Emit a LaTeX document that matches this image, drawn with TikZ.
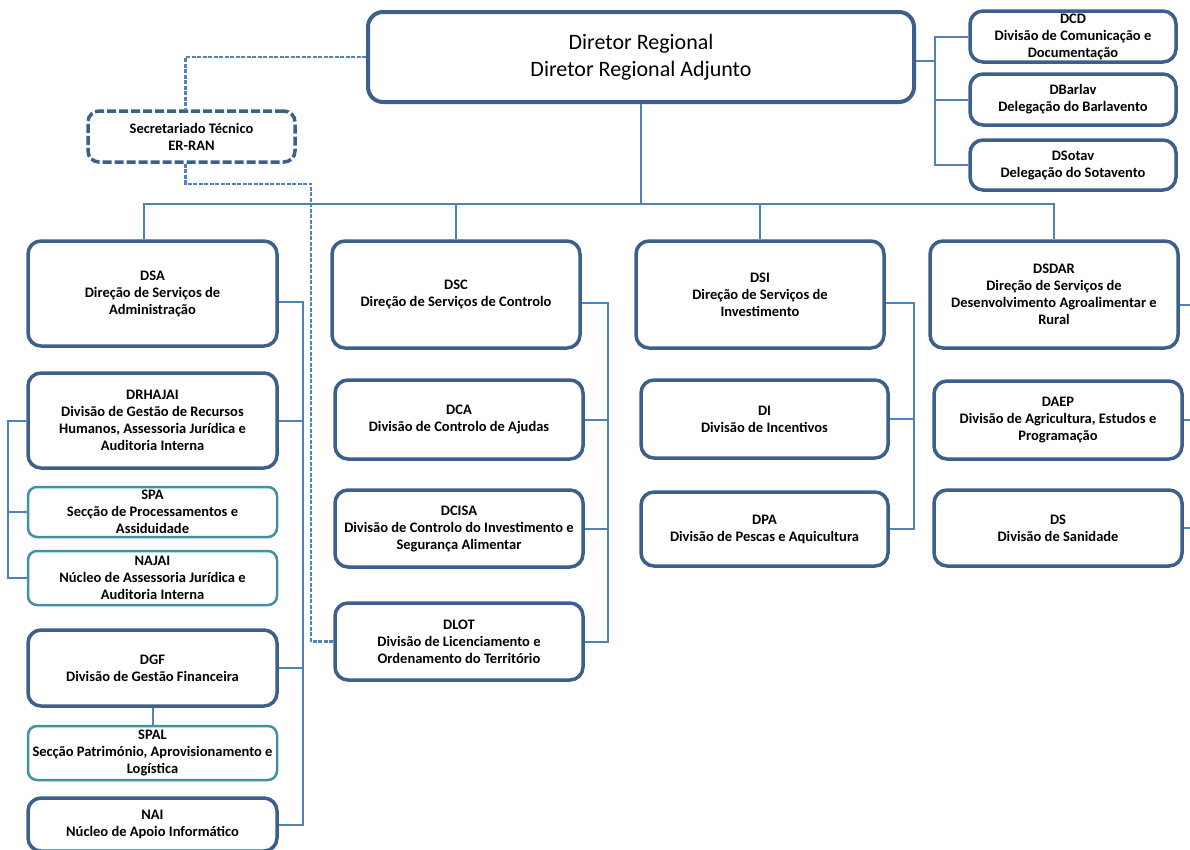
\documentclass[tikz,border=0pt]{standalone}
\usepackage{fontspec}
\setmainfont{Carlito}
\usetikzlibrary{calc}
\definecolor{boxblue}{RGB}{60,95,140}
\definecolor{connblue}{RGB}{79,129,189}
\definecolor{tealb}{RGB}{65,145,160}
\tikzset{
 base/.style={rounded corners=13pt, inner sep=0pt, align=center, text=black,
   font=\bfseries\fontsize{14.5}{17}\selectfont},
 mainbox/.style={base, draw=boxblue, line width=3.5pt},
 tealbox/.style={base, draw=tealb, line width=2.5pt, rounded corners=9pt},
 dashbox/.style={base, draw=boxblue, line width=3.5pt, rounded corners=11pt, dash pattern=on 9pt off 3pt},
 topbox/.style={mainbox, line width=4pt, rounded corners=15pt, font=\fontsize{22}{27}\selectfont},
 conn/.style={draw=connblue, line width=2pt},
 dconn/.style={draw=connblue, line width=2.2pt, dash pattern=on 4pt off 1.5pt},
}
\newcommand\obox[7]{%
 \pgfmathsetmacro\obcx{(#3+#5)/2}\pgfmathsetmacro\obcy{(#4+#6)/2}%
 \pgfmathsetmacro\obw{#5-#3}\pgfmathsetmacro\obh{#6-#4}%
 \node[#1, minimum width=\obw pt, minimum height=\obh pt] (#2) at (\obcx,\obcy) {#7};}
\begin{document}
\begin{tikzpicture}[x=1pt,y=-1pt]
\useasboundingbox (0,0) rectangle (1190,849);
\obox{topbox}{top}{368}{12}{914}{102}{Diretor Regional\\Diretor Regional Adjunto}
\obox{dashbox}{sec}{88}{111}{295}{162}{Secretariado Técnico\\ER-RAN}
\obox{mainbox}{dcd}{970}{11}{1176}{62}{DCD\\Divisão de Comunicação e\\Documentação}
\obox{mainbox}{dbarlav}{970}{74}{1176}{125}{DBarlav\\Delegação do Barlavento}
\obox{mainbox}{dsotav}{970}{140}{1176}{190}{DSotav\\Delegação do Sotavento}
\obox{mainbox}{dsa}{28}{241}{277}{346}{DSA\\Direção de Serviços de\\Administração}
\obox{mainbox}{dsc}{332}{241}{580}{348}{DSC\\Direção de Serviços de Controlo}
\obox{mainbox}{dsi}{636}{241}{884}{348}{DSI\\Direção de Serviços de\\Investimento}
\obox{mainbox}{dsdar}{930}{241}{1178}{348}{DSDAR\\Direção de Serviços de\\Desenvolvimento Agroalimentar e\\Rural}
\obox{mainbox}{drhajai}{28}{373}{277}{468}{DRHAJAI\\Divisão de Gestão de Recursos\\Humanos, Assessoria Jurídica e\\Auditoria Interna}
\obox{tealbox}{spa}{28}{487}{277}{537}{SPA\\Secção de Processamentos e\\Assiduidade}
\obox{tealbox}{najai}{28}{551}{277}{605}{NAJAI\\Núcleo de Assessoria Jurídica e\\Auditoria Interna}
\obox{mainbox}{dgf}{28}{630}{277}{706}{DGF\\Divisão de Gestão Financeira}
\obox{tealbox}{spal}{28}{726}{277}{780}{SPAL\\Secção Património, Aprovisionamento e\\Logística}
\obox{mainbox}{nai}{28}{798}{277}{851}{NAI\\Núcleo de Apoio Informático}
\obox{mainbox}{dca}{335}{380}{583}{459}{DCA\\Divisão de Controlo de Ajudas}
\obox{mainbox}{dcisa}{335}{490}{583}{567}{DCISA\\Divisão de Controlo do Investimento e\\Segurança Alimentar}
\obox{mainbox}{dlot}{335}{603}{583}{680}{DLOT\\Divisão de Licenciamento e\\Ordenamento do Território}
\obox{mainbox}{di}{641}{380}{888}{458}{DI\\Divisão de Incentivos}
\obox{mainbox}{dpa}{641}{492}{888}{566}{DPA\\Divisão de Pescas e Aquicultura}
\obox{mainbox}{daep}{934}{381}{1182}{459}{DAEP\\Divisão de Agricultura, Estudos e\\Programação}
\obox{mainbox}{ds}{934}{490}{1182}{566}{DS\\Divisão de Sanidade}
% main bus
\coordinate (bus) at (0,204);
\draw[conn] (top.south) -- (top.south |- bus);
\draw[conn] ([xshift=-9pt]dsa.north) -- ([xshift=-9pt]dsa.north |- bus) -| (dsdar.north);
\draw[conn] (dsc.north) -- (dsc.north |- bus);
\draw[conn] (dsi.north) -- (dsi.north |- bus);
% top right group
\draw[conn] ([yshift=-4pt]top.east) -- ++(19,0) coordinate (r1);
\draw[conn] (dcd.west) -| (r1 |- dsotav.west) -- (dsotav.west);
\draw[conn] (dbarlav.west) -- (r1 |- dbarlav.west);
% DSA column
\draw[conn] ([yshift=-8pt]dsa.east) -- ++(24,0) coordinate (a1) -- (a1 |- nai.east) -- (nai.east);
\draw[conn] (drhajai.east) -- (a1 |- drhajai.east);
\draw[conn] (dgf.east) -- (a1 |- dgf.east);
\draw[conn] (drhajai.west) -- ++(-18,0) coordinate (l1) |- (najai.west);
\draw[conn] (spa.west) -- (l1 |- spa.west);
\draw[conn] (dgf.south) -- (spal.north);
% DSC column
\draw[conn] ([yshift=-8pt]dsc.east) -- ++(26,0) coordinate (c1) |- (dlot.east);
\draw[conn] (dca.east) -- (c1 |- dca.east);
\draw[conn] (dcisa.east) -- (c1 |- dcisa.east);
% DSI column
\draw[conn] ([yshift=-8pt]dsi.east) -- ++(28,0) coordinate (i1) |- (dpa.east);
\draw[conn] (di.east) -- (i1 |- di.east);
% DSDAR column (free ends at page edge)
\draw[conn] ([yshift=-10pt]dsdar.east) -- ++(14,0);
\draw[conn] (daep.east) -- ++(10,0);
\draw[conn] (ds.east) -- ++(10,0);
% dashed links of the Secretariado
\draw[dconn] (top.west) -| ([xshift=-6pt]sec.north);
\draw[dconn] ([xshift=-6pt]sec.south) -- ++(0,20) -| ($(dlot.west)+(-22,0)$) -- (dlot.west);
\end{tikzpicture}
\end{document}
